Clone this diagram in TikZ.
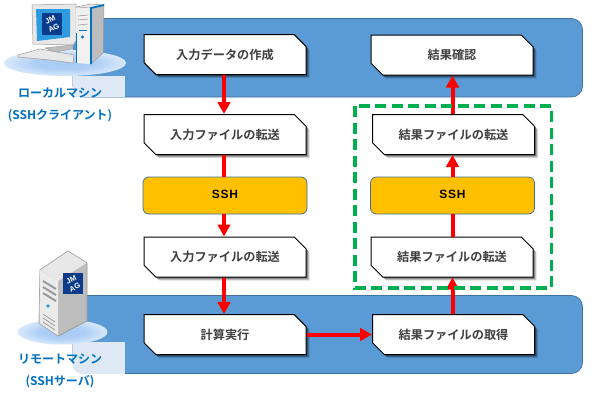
\documentclass[tikz,border=0pt]{standalone}
\usepackage{fontspec}
\setmainfont{Noto Sans CJK JP}[BoldFont={Noto Sans CJK JP Bold}]
\newfontfamily\latinf{Liberation Sans}[LetterSpace=6]
\newfontfamily\logof{Liberation Sans}
\usetikzlibrary{arrows.meta,shapes.misc,shadows}
\definecolor{panel}{HTML}{5B9BD5}
\definecolor{paneledge}{HTML}{41719C}
\definecolor{patch}{HTML}{DEE9F5}
\definecolor{orangebox}{HTML}{FFC000}
\definecolor{labelblue}{HTML}{0070C0}
\definecolor{txt}{HTML}{404040}
\definecolor{grn}{HTML}{00B050}
\definecolor{gA}{HTML}{BDBDBD}
\definecolor{gB}{HTML}{E8E8E8}
\definecolor{gC}{HTML}{9A9A9A}
\definecolor{logo}{HTML}{0B3C8C}
\definecolor{halo}{HTML}{A8CBF5}
\definecolor{scr}{HTML}{2E9BE0}
\pgfdeclareradialshading{haloshade}{\pgfpoint{0bp}{0bp}}{color(0bp)=(halo); color(12bp)=(halo!95!white); color(25bp)=(halo!45!white); color(50bp)=(white)}
\tikzset{
 softshadow/.style={general shadow={shadow xshift=3.5pt,shadow yshift=-3.5pt,fill=black,opacity=.14},
   general shadow={shadow xshift=2.5pt,shadow yshift=-2.5pt,fill=black,opacity=.22},
   general shadow={shadow xshift=1.5pt,shadow yshift=-1.5pt,fill=black,opacity=.3}},
 snipbox/.style={chamfered rectangle,chamfered rectangle corners={north east,south west},chamfered rectangle sep=6pt,
   draw=black,line width=1pt,fill=white,minimum width=162pt,minimum height=40pt,inner sep=0pt,softshadow,
   text=txt,font=\bfseries\fontsize{12.2}{14}\selectfont},
 sshbox/.style={rectangle,rounded corners=6pt,draw=paneledge,line width=.8pt,fill=orangebox,minimum width=164pt,minimum height=37pt,inner sep=0pt,
   font=\latinf\bfseries\fontsize{12}{14}\selectfont,text=black},
 flow/.style={draw=red,line width=4pt,-{Triangle[length=12pt,width=12.5pt]}},
 plainflow/.style={draw=red,line width=4pt},
 panelbox/.style={draw=paneledge,line width=.7pt,fill=panel,rounded corners=11pt},
 machine/.style={text=labelblue,font=\bfseries\fontsize{12}{22.5}\selectfont,align=center},
 logotext/.style={text=white,font=\logof\bfseries\fontsize{7.5}{8.5}\selectfont,align=center,inner sep=0pt},
 halostyle/.style={shading=haloshade},
 part/.style={draw=gC,line width=.5pt},
 slot/.style={draw=gC,line width=1pt},
}
\begin{document}
\begin{tikzpicture}[x=1pt,y=-1pt]
\useasboundingbox (0,0) rectangle (600,400);
\fill[white] (0,0) rectangle (600,400);
% panels
\draw[panelbox] (73,18.5) rectangle (582.5,97);
\draw[panelbox] (73,295.5) rectangle (582.5,373.5);
\fill[patch] (73,76) rectangle (125,97);
\fill[patch] (83,342) rectangle (125,374);
\fill[patch] (73,342) rectangle (85,364);
\fill[patch] (85,364) -- (73,364) .. controls (73,371) and (77,374) .. (85,374) -- cycle;
% boxes
\node[snipbox] (a1) at (225,54.5) {入力データの作成};
\node[snipbox] (a2) at (225,134.5) {入力ファイルの転送};
\node[sshbox]  (a3) at (225,195.5) {\raisebox{2pt}{SSH}};
\node[snipbox] (a4) at (225,257) {入力ファイルの転送};
\node[snipbox] (a5) at (225,334.5) {計算実行};
\node[snipbox] (b1) at (452,55) {結果確認};
\node[snipbox] (b2) at (453.5,134.5) {結果ファイルの転送};
\node[sshbox]  (b3) at (452.5,195.5) {\raisebox{2pt}{SSH}};
\node[snipbox] (b4) at (452,257) {結果ファイルの転送};
\node[snipbox] (b5) at (453.5,334.5) {結果ファイルの取得};
% arrows
\draw[flow] ([xshift=-1pt]a1.south) -- ([xshift=-1pt]a2.north);
\draw[plainflow] ([xshift=-1pt]a2.south) -- ([xshift=-1pt]a3.north);
\draw[flow] ([xshift=-1pt]a3.south) -- ([xshift=-1pt]a4.north);
\draw[flow] ([xshift=-1pt]a4.south) -- ([xshift=-1pt]a5.north);
\draw[flow] (a5.east) -- (b5.west);
\draw[flow] (b5.north -| b3.north) -- (b4.south -| b3.north);
\draw[plainflow] (b4.north -| b3.south) -- (b3.south);
\draw[flow] (b3.north) -- (b2.south -| b3.north);
\draw[flow] (b2.north -| b3.north) -- (b1.south -| b3.north);
% dashed frame
\draw[grn,line width=3.6pt,dash pattern=on 11pt off 5.5pt] (355,106) rectangle (551.5,288);
% labels
\node[machine] (lm) at (60,105) {ローカルマシン\\(SSHクライアント)};
\node[machine] (rm) at (60,371) {リモートマシン\\(SSHサーバ)};
% client icon
\path[halostyle] (65,63) ellipse [x radius=61,y radius=13];
\fill[gB,part] (32,5) -- (76,4) -- (76,41) -- (73,45) -- (33,44) -- cycle;
\fill[scr] (36,9) -- (70,9) -- (70,37) -- (37,41) -- cycle;
\fill[logo] (42,13) rectangle (62,35);
\node[logotext,rotate=25] (lg1) at (52,24) {JM\\AG};
\fill[gA,part] (45,48) -- (72,45) -- (72,49) -- (55,52) -- cycle;
\fill[gB,part] (18,55) -- (40,49) -- (74,55) -- (73,63) -- (50,60) -- (18,57) -- cycle;
\fill[gB,part] (76,7) -- (91,4) -- (104,5) -- (91,8) -- cycle;
\fill[gA,part] (91,8) -- (104,5) -- (103,53) -- (91,64) -- cycle;
\fill[white!94!black] (76,8) -- (91,8) -- (91,64) -- (76,63) -- cycle;
\draw[labelblue,line width=1.8pt] (104,5) -- (91,8) -- (91,64);
\draw[labelblue,line width=1.8pt] (76.5,33) -- (76.5,63);
\draw[labelblue,line width=1pt] (79,30) -- (87,30);
\fill[labelblue] (82.5,37) circle (1.6);
\draw[gC,line width=.6pt] (78,16) -- (88,15) (78,20) -- (88,19) (78,25) -- (88,24);
% server icon
\path[halostyle] (62.5,332) ellipse [x radius=45,y radius=12.5];
\fill[gA,draw=gC,line width=.8pt] (68,251) -- (87,263) -- (87,321) -- (58,336) -- (39,323) -- (40,270) -- cycle;
\fill[gB] (68,251.5) -- (86.5,263) -- (58,281) -- (40.5,270) -- cycle;
\fill[white!92!black] (40,270) -- (58,281) -- (58,335.5) -- (39.5,323) -- cycle;
\draw[slot,line width=2pt] (43,281) -- (56,289) (43,287) -- (56,295) (43,293) -- (56,301);
\draw[slot,line width=.8pt] (43,314) -- (55,322) (43,318) -- (55,326) (43,322) -- (55,330);
\fill[logo] (63,273) rectangle (83,294);
\node[logotext,rotate=25] (lg2) at (73,283.5) {JM\\AG};
\fill[scr] (48,306) circle (1.8);
\end{tikzpicture}
\end{document}
